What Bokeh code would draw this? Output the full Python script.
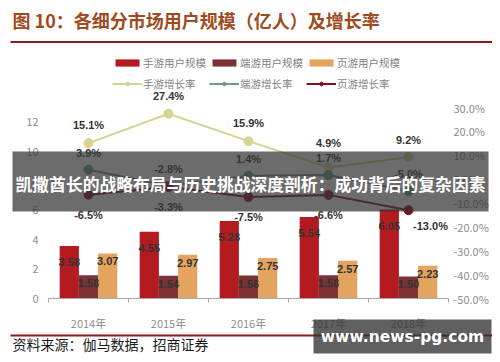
import numpy as np
from bokeh.plotting import figure
from bokeh.models import (Range1d, LinearAxis, FixedTicker, NumeralTickFormatter,
                          ColumnDataSource, LabelSet, Label, BoxAnnotation, Legend, LegendItem)
from bokeh.transform import dodge
from bokeh.core.properties import value
from bokeh.embed import file_html
from bokeh.resources import INLINE

# ---------------- data ----------------
years = ["2014年", "2015年", "2016年", "2017年", "2018年"]
mobile_users = [3.58, 4.55, 5.28, 5.54, 6.05]
pc_users = [1.58, 1.54, 1.56, 1.58, 1.50]
web_users = [3.07, 2.97, 2.75, 2.57, 2.23]
mobile_growth = [0.151, 0.274, 0.159, 0.049, 0.092]
pc_growth = [0.039, -0.028, 0.014, 0.017, -0.050]
web_growth = [-0.065, -0.033, -0.075, -0.066, -0.130]
left_ticks = [0, 2, 4, 6, 8, 10, 12]
right_ticks = [-0.5, -0.4, -0.3, -0.2, -0.1, 0.0, 0.1, 0.2, 0.3]
series_names = ["手游用户规模", "端游用户规模", "页游用户规模", "手游增长率", "端游增长率", "页游增长率"]
title_text = "图 10：各细分市场用户规模（亿人）及增长率"
source_text = "资料来源：伽马数据，招商证券"
banner_text = "凯撒酋长的战略布局与历史挑战深度剖析：成功背后的复杂因素"
watermark_text = "www.news-pg.com"

# ---------------- styles ----------------
C_MOB = "#b21c20"
C_PC = "#7c3234"
C_WEB = "#e4a35e"
C_MOB_G = "#d6d393"
C_PC_G = "#6a9a8b"
C_WEB_G = "#7e1020"
CJK = "Noto Sans CJK SC"
NUM = "Liberation Sans"

# ---------------- geometry (canvas px, plot area inside the canvas) ----------------
W, H = 492, 354
PL, PR, PT, PB = 48, 448, 107, 298
n = len(years)
y0, y1 = 0, 13
r0, r1_ = -0.5, 0.3
kx = (PR - PL) / n
ky = (PB - PT) / (y1 - y0)
kr = (PB - PT) / (r1_ - r0)
x_range = Range1d(-PL / kx, n + (W - PR) / kx)
y_range = Range1d(y0 - (H - PB) / ky, y1 + PT / ky)
pct_range = Range1d(r0 - (H - PB) / kr, r1_ + PT / kr)

xc = np.arange(n) + 0.5
src = ColumnDataSource(dict(
    x=xc,
    mobile=mobile_users, pc=pc_users, web=web_users,
    mobile_t=[f"{v:.2f}" for v in mobile_users],
    pc_t=[f"{v:.2f}" for v in pc_users],
    web_t=[f"{v:.2f}" for v in web_users],
    mg=mobile_growth, pg=pc_growth, wg=web_growth,
    mg_t=[f"{v*100:.1f}%" for v in mobile_growth],
    pg_t=[f"{v*100:.1f}%" for v in pc_growth],
    wg_t=[f"{v*100:.1f}%" for v in web_growth],
    mg_dy=[18, 18, 18, 24, 17],
    wg_dx=[0, 0, 0, 0, 22],
    wg_dy=[-20, -20, -20, -20, -16],
))

p = figure(width=W, height=H, output_backend="svg", toolbar_location=None,
           x_range=x_range, y_range=y_range,
           min_border_left=0, min_border_right=0, min_border_top=0, min_border_bottom=0)
p.outline_line_color = None
p.grid.visible = False
p.background_fill_color = "white"
p.border_fill_color = "white"
p.extra_y_ranges = {"pct": pct_range}

# x axis
xa = p.xaxis[0]
xa.fixed_location = y0
xa.bounds = (0, n)
xa.ticker = FixedTicker(ticks=list(xc), minor_ticks=list(range(n + 1)))
xa.major_label_overrides = {float(c): y for c, y in zip(xc, years)}
xa.major_tick_line_color = None
xa.major_tick_out = 0
xa.minor_tick_in = 0
xa.minor_tick_out = 4
xa.minor_tick_line_color = "#a6a6a6"
xa.axis_line_color = "#a6a6a6"
xa.major_label_standoff = 12
xa.major_label_text_font = CJK
xa.major_label_text_font_size = "11px"
xa.major_label_text_color = "#8c8c8c"

# left axis
ya = p.yaxis[0]
ya.fixed_location = 0
ya.ticker = FixedTicker(ticks=left_ticks)
ya.axis_line_color = None
ya.major_tick_line_color = None
ya.minor_tick_line_color = None
ya.major_tick_out = 0
ya.major_label_standoff = 10
ya.major_label_text_font = CJK
ya.major_label_text_font_size = "11px"
ya.major_label_text_color = "#8c8c8c"

# right axis
ra = LinearAxis(y_range_name="pct", ticker=FixedTicker(ticks=right_ticks),
                formatter=NumeralTickFormatter(format="0.0%"), fixed_location=n)
ra.axis_line_color = None
ra.major_tick_line_color = None
ra.minor_tick_line_color = None
ra.major_tick_out = 0
ra.major_label_standoff = 5
ra.major_label_text_font = CJK
ra.major_label_text_font_size = "11px"
ra.major_label_text_color = "#8c8c8c"
p.add_layout(ra, "right")

# bars
bw = 0.24
b1 = p.vbar(x=dodge("x", -bw, range=p.x_range), top="mobile", width=bw, source=src,
            fill_color=C_MOB, line_color=None)
b2 = p.vbar(x="x", top="pc", width=bw, source=src, fill_color=C_PC, line_color=None)
b3 = p.vbar(x=dodge("x", bw, range=p.x_range), top="web", width=bw, source=src,
            fill_color=C_WEB, line_color=None)

# lines
l1 = p.line(x="x", y="mg", source=src, y_range_name="pct", line_color=C_MOB_G, line_width=2)
s1 = p.scatter(x="x", y="mg", source=src, y_range_name="pct", size=9, fill_color=C_MOB_G, line_color=C_MOB_G)
l2 = p.line(x="x", y="pg", source=src, y_range_name="pct", line_color=C_PC_G, line_width=2)
s2 = p.scatter(x="x", y="pg", source=src, y_range_name="pct", size=9, fill_color=C_PC_G, line_color=C_PC_G)
l3 = p.line(x="x", y="wg", source=src, y_range_name="pct", line_color=C_WEB_G, line_width=2)
s3 = p.scatter(x="x", y="wg", source=src, y_range_name="pct", size=9, fill_color=C_WEB_G, line_color=C_WEB_G)

lab_kw = dict(source=src, text_align="center", text_baseline="middle",
              text_font=value(NUM), text_font_style="bold", text_font_size="11px",
              text_color="#333333")
p.add_layout(LabelSet(x=dodge("x", -bw, range=p.x_range), y="mobile", text="mobile_t", y_offset=-16, **lab_kw))
p.add_layout(LabelSet(x="x", y="pc", text="pc_t", y_offset=-8, **lab_kw))
p.add_layout(LabelSet(x=dodge("x", bw, range=p.x_range), y="web", text="web_t", y_offset=-8, **lab_kw))
p.add_layout(LabelSet(x="x", y="mg", text="mg_t", y_range_name="pct", y_offset="mg_dy", **lab_kw))
p.add_layout(LabelSet(x="x", y="pg", text="pg_t", y_range_name="pct", y_offset=17, **lab_kw))
p.add_layout(LabelSet(x="x", y="wg", text="wg_t", y_range_name="pct", x_offset="wg_dx", y_offset="wg_dy", **lab_kw))

# legend
items = [LegendItem(label=series_names[0], renderers=[b1]),
         LegendItem(label=series_names[1], renderers=[b2]),
         LegendItem(label=series_names[2], renderers=[b3]),
         LegendItem(label=series_names[3], renderers=[l1, s1]),
         LegendItem(label=series_names[4], renderers=[l2, s2]),
         LegendItem(label=series_names[5], renderers=[l3, s3])]
legend = Legend(items=items, location=(112, 262), orientation="horizontal", ncols=3,
                glyph_width=30, glyph_height=9, label_height=18, label_standoff=1,
                spacing=3, padding=0, margin=0, border_line_color=None,
                background_fill_alpha=0, label_text_font=CJK,
                label_text_font_size="10.5px", label_text_color="#7f7f7f")
p.add_layout(legend)

scr = dict(left_units="screen", right_units="screen", top_units="screen", bottom_units="screen")

# title, rules, source  (screen units: x = X, y = H - Y)
p.add_layout(Label(x=12, y=H - 19, x_units="screen", y_units="screen", text=title_text,
                   text_font=CJK, text_font_style="bold", text_font_size="18px",
                   text_color="#a04a20", text_baseline="middle"))
p.add_layout(BoxAnnotation(left=10, right=495, top=H - 40.5, bottom=H - 42.5, fill_color="#8e1b1b",
                           fill_alpha=1, line_color=None, **scr))
p.add_layout(BoxAnnotation(left=10, right=495, top=H - 334, bottom=H - 336, fill_color="#8e1b1b",
                           fill_alpha=1, line_color=None, **scr))
p.add_layout(Label(x=12, y=H - 343.5, x_units="screen", y_units="screen", text=source_text,
                   text_font=CJK, text_font_size="14px", text_color="#1a1a1a", text_baseline="middle"))

# overlay banner
p.add_layout(BoxAnnotation(left=12, right=488, top=H - 151, bottom=H - 211, fill_color="#333333",
                           fill_alpha=0.72, line_color=None, **scr))
p.add_layout(Label(x=250, y=H - 183, x_units="screen", y_units="screen", text=banner_text,
                   text_font=CJK, text_font_style="bold", text_font_size="16.8px",
                   text_color="white", text_align="center", text_baseline="middle"))

# watermark
p.add_layout(BoxAnnotation(left=313, right=491, top=H - 319, bottom=H - 353, fill_color="#333333",
                           fill_alpha=0.78, line_color=None, **scr))
p.add_layout(Label(x=402, y=H - 336, x_units="screen", y_units="screen", text=watermark_text,
                   text_font="DejaVu Sans", text_font_style="bold", text_font_size="15.5px",
                   text_color="white", text_align="center", text_baseline="middle"))

open("out.html", "w").write(file_html(p, INLINE))
